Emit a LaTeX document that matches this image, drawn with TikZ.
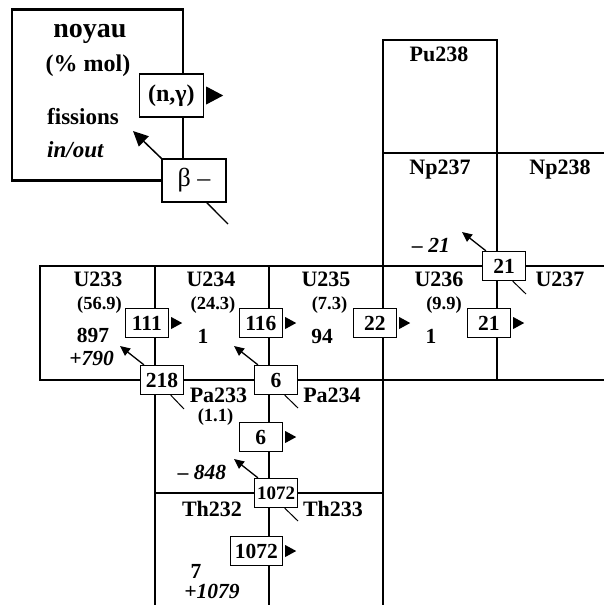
\documentclass[tikz,border=0pt]{standalone}
\usepackage{fontspec}
\setmainfont{Liberation Serif}
\usetikzlibrary{shapes.geometric, arrows.meta, positioning}

\begin{document}
\begin{tikzpicture}[x=1pt, y=-1pt,
    grid/.style={line width=2.8pt, line cap=rect},
    cellname/.style={anchor=base, inner sep=0pt, font=\fontsize{22}{24}\selectfont\bfseries},
    molfrac/.style={anchor=base, inner sep=0pt, font=\fontsize{18.5}{20}\selectfont\bfseries},
    fisnum/.style={anchor=base, inner sep=0pt, font=\fontsize{21.5}{24}\selectfont\bfseries},
    fisio/.style={anchor=base, inner sep=0pt, font=\fontsize{21.5}{24}\selectfont\bfseries\itshape},
    ngbox/.style={draw, line width=1.3pt, fill=white, anchor=east, minimum width=43pt,
                  minimum height=29pt, inner xsep=4.5pt, inner ysep=0pt,
                  font=\fontsize{21.5}{24}\selectfont\bfseries},
    betabox/.style={draw, line width=1.3pt, fill=white, minimum width=43pt,
                    minimum height=29pt, inner sep=1pt, font=\fontsize{21.5}{24}\selectfont\bfseries},
    ngtip/.style={isosceles triangle, isosceles triangle stretches, fill=black, inner sep=0pt,
                  minimum width=12pt, minimum height=11pt},
    betaarr/.style={-{Triangle[length=10pt,width=9pt]}, line width=1.3pt},
    betatail/.style={line width=1pt},
  ]
    \useasboundingbox (0,0) rectangle (603,605);

    % chart grid
    \draw[grid] (383,40) -- (497,40);
    \draw[grid] (383,153) -- (603,153);
    \draw[grid] (40,266) -- (603,266);
    \draw[grid] (40,380) -- (603,380);
    \draw[grid] (155,493) -- (383,493);
    \draw[grid] (40,266) -- (40,380);
    \draw[grid] (155,266) -- (155,605);
    \draw[grid] (269,266) -- (269,605);
    \draw[grid] (383,40) -- (383,605);
    \draw[grid] (497,40) -- (497,380);

    % legend
    \node[draw, line width=2.8pt, minimum size=171pt] (legend) at (97.5,95) {};
    \node[anchor=base, inner sep=0pt, font=\fontsize{28}{30}\selectfont\bfseries] (lnoyau) at (90,37) {noyau};
    \node[anchor=base, inner sep=0pt, font=\fontsize{24}{26}\selectfont\bfseries] (lmol) at (88,71) {(\% mol)};
    \node[anchor=base west, inner sep=0pt, font=\fontsize{23}{26}\selectfont\bfseries] (lfis) at (47,124) {fissions};
    \node[anchor=base west, inner sep=0pt, font=\fontsize{23}{26}\selectfont\bfseries\itshape] (lio) at (47,157) {in/out};
    \node[ngbox, minimum width=64pt, minimum height=43pt, font=\fontsize{24}{26}\selectfont\bfseries] (lng) at (204,95.5) {(n,γ)};
    \node[ngtip, minimum width=18pt, minimum height=17pt, right=2pt of lng] (lngt) {};
    \node[betabox, minimum width=64pt, minimum height=43pt, font=\fontsize{26}{28}\selectfont\mdseries] (lbeta) at (194,180.5) {β --};
    \coordinate (lbetahd) at (133,131);
    \coordinate (lbetatl) at (228,224);
    \draw[-{Triangle[length=15pt,width=14pt]}, line width=1.5pt] (lbeta.north west) -- (lbetahd);
    \draw[line width=1.3pt] (lbeta.-60) -- (lbetatl);

    % nuclide names
    \node[cellname] (pu238) at (439,61) {Pu238};
    \node[cellname] (np237) at (440,174) {Np237};
    \node[cellname] (np238) at (560,174) {Np238};
    \node[cellname] (u233) at (98,286.5) {U233};
    \node[cellname] (u234) at (211,286.5) {U234};
    \node[cellname] (u235) at (326,286.5) {U235};
    \node[cellname] (u236) at (439,286.5) {U236};
    \node[cellname] (u237) at (560,286.5) {U237};
    \node[cellname] (pa233) at (218.5,402) {Pa233};
    \node[cellname] (pa234) at (332,402) {Pa234};
    \node[cellname] (th232) at (212,516) {Th232};
    \node[cellname] (th233) at (333,516) {Th233};

    \node[molfrac] (mu233) at (99.5,309) {(56.9)};
    \node[molfrac] (mu234) at (213,309) {(24.3)};
    \node[molfrac] (mu235) at (329.5,309) {(7.3)};
    \node[molfrac] (mu236) at (444,309) {(9.9)};
    \node[molfrac] (mpa233) at (215.5,421) {(1.1)};

    \node[fisnum] (fu233) at (93,342) {897};
    \node[fisnum] (fu234) at (203,343) {1};
    \node[fisnum] (fu235) at (322,343) {94};
    \node[fisnum] (fu236) at (431,343) {1};
    \node[fisnum] (fth232) at (196,578) {7};
    \node[fisio] (iu233) at (91.5,365) {+790};
    \node[fisio] (ith232) at (212,598) {+1079};
    \node[fisio] (ipa233) at (202,479) {-- 848};
    \node[fisio] (inp237) at (431,252) {-- 21};

    % (n,gamma) captures
    \node[ngbox] (ng111) at (169,323) {111};
    \node[ngtip, right=2pt of ng111] (tp111) {};
    \node[ngbox] (ng116) at (283,323) {116};
    \node[ngtip, right=2pt of ng116] (tp116) {};
    \node[ngbox] (ng22) at (397,323) {22};
    \node[ngtip, right=2pt of ng22] (tp22) {};
    \node[ngbox] (ng21) at (511,323) {21};
    \node[ngtip, right=2pt of ng21] (tp21) {};
    \node[ngbox] (ng6) at (283,437) {6};
    \node[ngtip, right=2pt of ng6] (tp6) {};
    \node[ngbox] (ng1072) at (283,551) {1072};
    \node[ngtip, right=2pt of ng1072] (tp1072) {};

    % beta decays
    \node[betabox] (bt218) at (162,380) {218};
    \node[betabox] (bt6) at (276,380) {6};
    \node[betabox, font=\fontsize{19}{22}\selectfont\bfseries] (bt1072) at (276,493) {1072};
    \node[betabox] (bt21) at (504,266) {21};

    \coordinate (hd218) at (120,346);
    \coordinate (hd6) at (234,346);
    \coordinate (hd1072) at (234,459);
    \coordinate (hd21) at (462,232);
    \coordinate (tl218) at (184,409);
    \coordinate (tl6) at (298,408);
    \coordinate (tl1072) at (298,521);
    \coordinate (tl21) at (526,294);

    \draw[betaarr] (bt218.140) -- (hd218);
    \draw[betaarr] (bt6.140) -- (hd6);
    \draw[betaarr] (bt1072.140) -- (hd1072);
    \draw[betaarr] (bt21.140) -- (hd21);
    \draw[betatail] (bt218.-60) -- (tl218);
    \draw[betatail] (bt6.-60) -- (tl6);
    \draw[betatail] (bt1072.-60) -- (tl1072);
    \draw[betatail] (bt21.-60) -- (tl21);
  \end{tikzpicture}
\end{document}
